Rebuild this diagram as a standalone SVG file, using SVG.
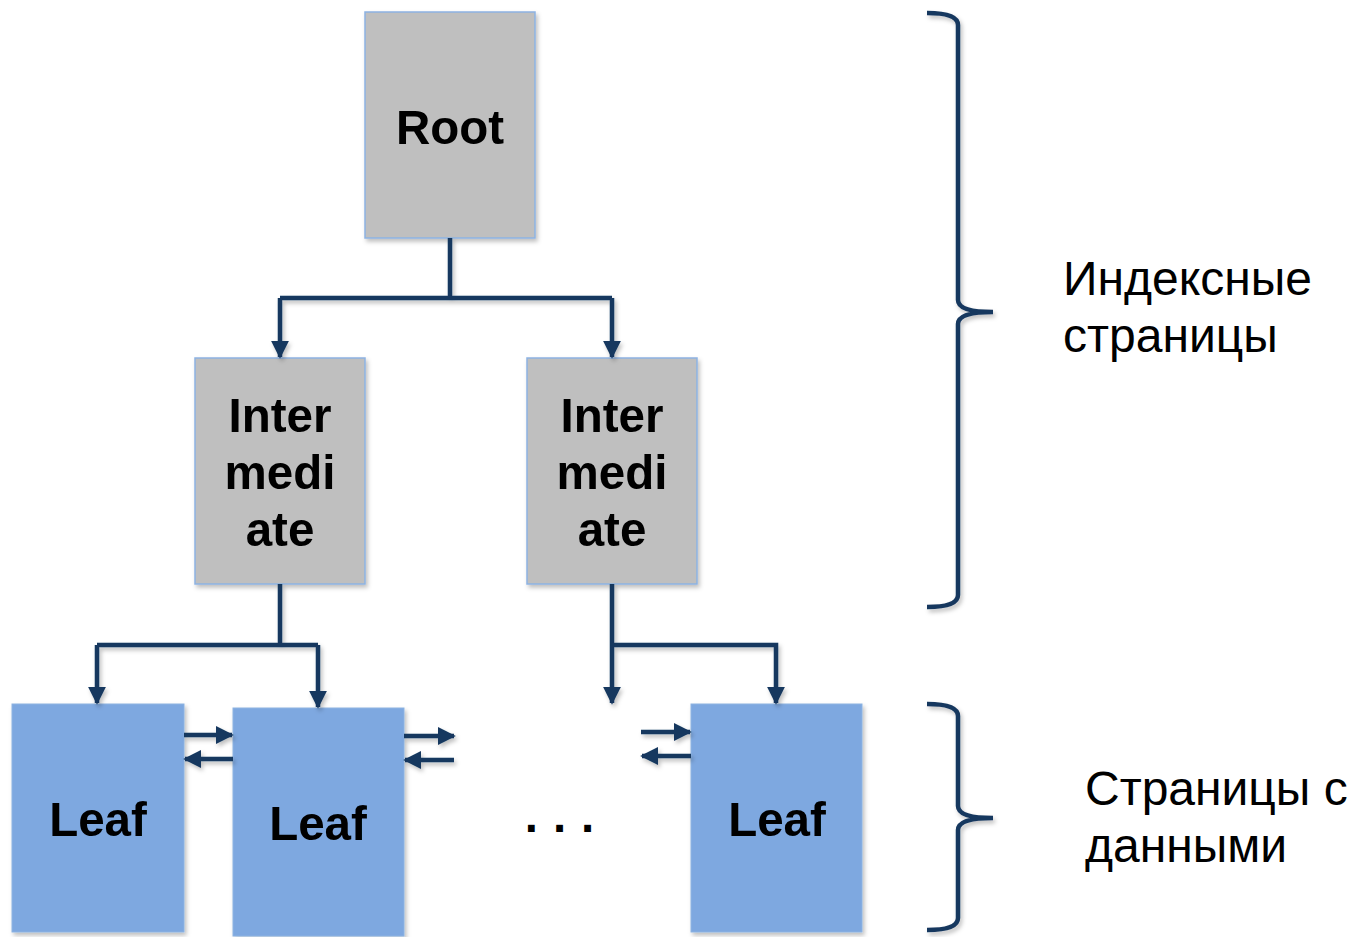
<svg xmlns="http://www.w3.org/2000/svg" width="1353" height="937" viewBox="0 0 1353 937">
<style>
.idx{fill:#bfbfbf;stroke:#8db3e2;stroke-width:1.5}
.leaf{fill:#7ea8e0;stroke:#8db3e2;stroke-width:1}
.lbl{font-family:"Liberation Sans",Arial,sans-serif;font-weight:bold;font-size:47.5px;fill:#000;text-anchor:middle}
.side{font-family:"Liberation Sans",Arial,sans-serif;font-size:48px;fill:#000}
.con{fill:none;stroke:#17375e;stroke-width:4.5;stroke-linejoin:miter}
</style>
<defs>
<marker id="ah" viewBox="0 0 10 10" refX="9" refY="5" markerWidth="4" markerHeight="4" orient="auto" markerUnits="strokeWidth">
<path d="M0,0 L10,5 L0,10 Z" fill="#17375e"/>
</marker>
<filter id="sh" x="-10%" y="-10%" width="130%" height="130%">
<feDropShadow dx="2" dy="3" stdDeviation="2" flood-color="#000" flood-opacity="0.25"/>
</filter>
</defs>
<g id="root" filter="url(#sh)">
<rect class="idx" x="365" y="12" width="170" height="226"/>
<text class="lbl" x="450" y="144">Root</text>
</g>
<g id="inter1" filter="url(#sh)">
<rect class="idx" x="195" y="358" width="170" height="226"/>
<text class="lbl" x="280" y="432">Inter</text>
<text class="lbl" x="280" y="489">medi</text>
<text class="lbl" x="280" y="546">ate</text>
</g>
<g id="inter2" filter="url(#sh)">
<rect class="idx" x="527" y="358" width="170" height="226"/>
<text class="lbl" x="612" y="432">Inter</text>
<text class="lbl" x="612" y="489">medi</text>
<text class="lbl" x="612" y="546">ate</text>
</g>
<g id="leaf1" filter="url(#sh)">
<rect class="leaf" x="12" y="704" width="172" height="228"/>
<text class="lbl" x="98" y="836">Leaf</text>
</g>
<g id="leaf2" filter="url(#sh)">
<rect class="leaf" x="233" y="708" width="171" height="228"/>
<text class="lbl" x="318" y="840">Leaf</text>
</g>
<g id="leaf3" filter="url(#sh)">
<rect class="leaf" x="691" y="704" width="171" height="228"/>
<text class="lbl" x="777" y="836">Leaf</text>
</g>
<g id="dots">
<text class="lbl" x="567" y="832" letter-spacing="15">...</text>
</g>
<g id="connectors" filter="url(#sh)">
<path class="con" d="M450,238 V298"/>
<path class="con" d="M280,298 H612"/>
<path class="con" d="M280,298 V357" marker-end="url(#ah)"/>
<path class="con" d="M612,298 V357" marker-end="url(#ah)"/>
<path class="con" d="M280,584 V645"/>
<path class="con" d="M97,645 H318"/>
<path class="con" d="M97,645 V703" marker-end="url(#ah)"/>
<path class="con" d="M318,645 V707" marker-end="url(#ah)"/>
<path class="con" d="M612,584 V703" marker-end="url(#ah)"/>
<path class="con" d="M612,645 H776 V703" marker-end="url(#ah)"/>
<path class="con" d="M184,735 H232" marker-end="url(#ah)"/>
<path class="con" d="M233,759 H185" marker-end="url(#ah)"/>
<path class="con" d="M404,736 H454" marker-end="url(#ah)"/>
<path class="con" d="M454,760 H405" marker-end="url(#ah)"/>
<path class="con" d="M641,732 H690" marker-end="url(#ah)"/>
<path class="con" d="M691,756 H642" marker-end="url(#ah)"/>
</g>
<g id="brace1" filter="url(#sh)">
<path class="con" d="M927,13 Q958,13 958,25 V300 Q958,312 993,312 Q958,312 958,324 V595 Q958,607 927,607"/>
</g>
<g id="brace2" filter="url(#sh)">
<path class="con" d="M927,704 Q958,704 958,716 V806 Q958,818 993,818 Q958,818 958,830 V918 Q958,930 927,930"/>
</g>
<g id="label1">
<text class="side" x="1063" y="295">Индексные</text>
<text class="side" x="1063" y="352">страницы</text>
</g>
<g id="label2">
<text class="side" x="1085" y="805">Страницы с</text>
<text class="side" x="1085" y="862">данными</text>
</g>
</svg>
